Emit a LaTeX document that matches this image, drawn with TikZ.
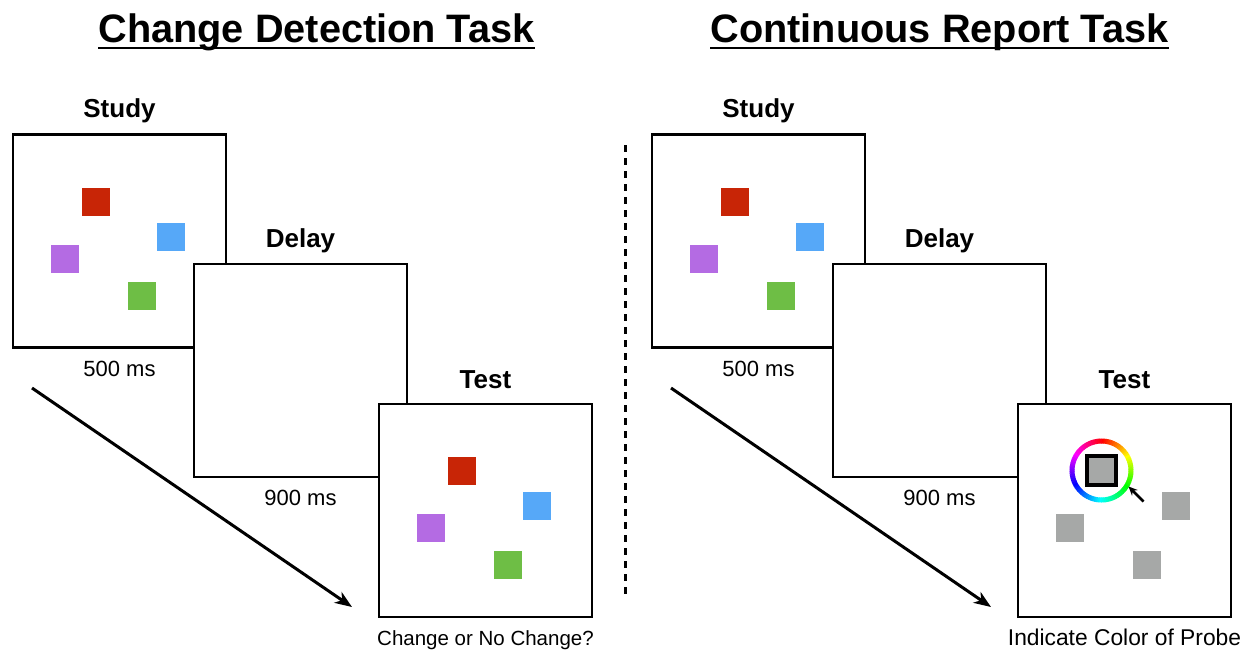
\documentclass[tikz,border=0pt]{standalone}
\usepackage{fontspec}
\setmainfont{Liberation Sans}
\usepackage{xcolor}
\usetikzlibrary{
    positioning,  % Relative positioning
    arrows.meta,  % Modern arrow tips
    calc          % Coordinate calculations
}

\definecolor{patchred}{HTML}{C82506}
\definecolor{patchblue}{HTML}{56A8F8}
\definecolor{patchpurple}{HTML}{B46BE3}
\definecolor{patchgreen}{HTML}{6EBE45}
\definecolor{patchgray}{HTML}{A6A8A7}

\begin{document}
\begin{tikzpicture}[x=1pt, y=-1pt,
    frame/.style={draw=black, line width=2.4pt, fill=white, minimum size=213pt, inner sep=0pt},
    patch/.style={minimum size=28pt, inner sep=0pt},
    phase/.style={font=\bfseries\fontsize{26}{30}\selectfont, anchor=base, inner sep=0pt},
    timing/.style={font=\fontsize{22}{26}\selectfont, anchor=base, inner sep=0pt},
    heading/.style={font=\bfseries\fontsize{39.7}{44}\selectfont, anchor=base, inner sep=0pt}]
    \useasboundingbox (0,0) rectangle (1250,649);

    % Titles
    \node[heading] (Ltitle) at (316.5,42) {Change Detection Task};
    \node[heading] (Rtitle) at (939.5,42) {Continuous Report Task};
    \foreach \p in {L,R}
        \draw[line width=2.5pt] ($(\p title.base west)+(0,6)$) -- ($(\p title.base east)+(0,6)$);

    % Separator
    \coordinate (septop) at (625,145);
    \coordinate (sepbot) at (625,600);
    \draw[line width=3pt, dash pattern=on 7pt off 6pt] (septop) -- (sepbot);

    % Frames, study display and timing labels for both tasks
    \foreach \p/\dx in {L/0, R/639} {
        \node[frame] (\p study) at (119.5+\dx,241) {};
        \node[frame] (\p delay) at (300.5+\dx,370.5) {};
        \node[frame] (\p test)  at (485.5+\dx,510.5) {};

        \node[phase] at ($(\p study.north)+(0,-16)$) {Study};
        \node[phase] at ($(\p delay.north)+(0,-15)$) {Delay};
        \node[phase] at ($(\p test.north)+(0,-14)$) {Test};
        \node[timing] at ($(\p study.south)+(0,28)$) {500 ms};
        \node[timing] at ($(\p delay.south)+(0,27)$) {900 ms};

        \node[patch, fill=patchred]    at ($(\p study.center)+(-23.5,-39.5)$) {};
        \node[patch, fill=patchblue]   at ($(\p study.center)+(51.5,-4.5)$) {};
        \node[patch, fill=patchpurple] at ($(\p study.center)+(-54.5,17.5)$) {};
        \node[patch, fill=patchgreen]  at ($(\p study.center)+(22.5,54.5)$) {};

        % Time arrow
        \coordinate (\p start) at (32+\dx,388);
        \coordinate (\p end)   at (352+\dx,607);
        \draw[line width=3pt, -{Stealth[length=17pt, width=13pt, inset=5pt]}] (\p start) -- (\p end);
    }

    % Change detection test display
    \node[patch, fill=patchred]    at ($(Ltest.center)+(-23.5,-39.5)$) {};
    \node[patch, fill=patchblue]   at ($(Ltest.center)+(51.5,-4.5)$) {};
    \node[patch, fill=patchpurple] at ($(Ltest.center)+(-54.5,17.5)$) {};
    \node[patch, fill=patchgreen]  at ($(Ltest.center)+(22.5,54.5)$) {};
    \node[timing, font=\fontsize{20.5}{24}\selectfont] at ($(Ltest.south)+(0,27)$) {Change or No Change?};

    % Continuous report test display
    \node[patch, fill=patchgray] at ($(Rtest.center)+(51.5,-4.5)$) {};
    \node[patch, fill=patchgray] at ($(Rtest.center)+(-54.5,17.5)$) {};
    \node[patch, fill=patchgray] at ($(Rtest.center)+(22.5,54.5)$) {};
    \coordinate (wheel) at ($(Rtest.center)+(-23,-40)$);
    \foreach \h in {0,4,...,356} {
        \definecolor{huecol}{Hsb}{\h,1,1}
        \draw[huecol, line width=5pt] ($(wheel)+(-90+\h:29.5)$)
            arc[start angle=-90+\h, end angle=-85+\h, radius=29.5];
    }
    \node[patch, draw=black, line width=4pt, fill=patchgray, minimum size=29pt] (probe) at (wheel) {};
    \coordinate (cursortail) at ($(wheel)+(42,31)$);
    \coordinate (cursortip)  at ($(wheel)+(27,16)$);
    \draw[line width=2.5pt, -{Stealth[length=9pt, width=8pt]}] (cursortail) -- (cursortip);
    \node[timing, font=\fontsize{22.8}{26}\selectfont] at ($(Rtest.south)+(0,27)$) {Indicate Color of Probe};
\end{tikzpicture}
\end{document}
